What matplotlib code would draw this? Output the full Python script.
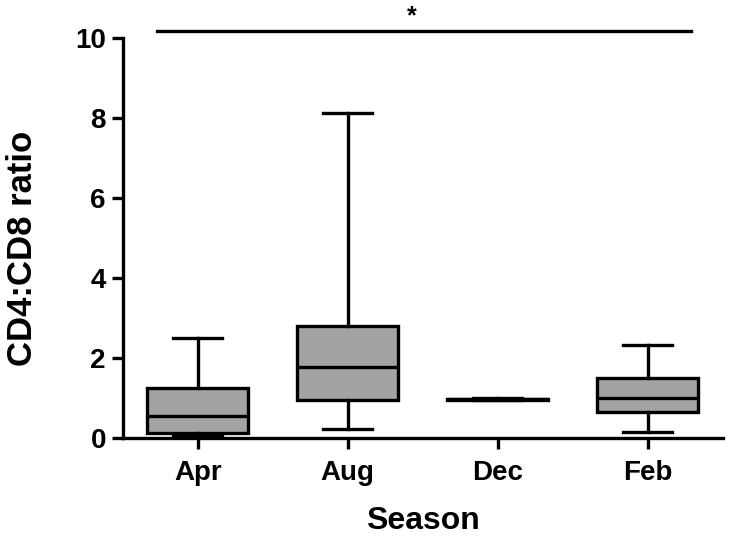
import matplotlib
matplotlib.use("Agg")
import matplotlib.pyplot as plt

plt.rcParams["font.family"] = ["Liberation Sans", "DejaVu Sans"]
plt.rcParams["font.weight"] = "bold"

# 数据：各季节 CD4:CD8 比值的五数概括（min, Q1, median, Q3, max）
seasons = ["Apr", "Aug", "Dec", "Feb"]
whislo = [0.05, 0.23, 0.94, 0.15]
q1 = [0.12, 0.95, 0.95, 0.65]
med = [0.55, 1.77, 0.97, 0.99]
q3 = [1.25, 2.81, 0.98, 1.50]
whishi = [2.50, 8.13, 1.00, 2.32]

stats = []
for i, s in enumerate(seasons):
    stats.append(dict(label=s, whislo=whislo[i], q1=q1[i], med=med[i],
                      q3=q3[i], whishi=whishi[i], fliers=[]))

fig = plt.figure(figsize=(7.30, 5.42), dpi=100)
ax = fig.add_axes([0.168, 0.192, 0.822, 0.738])

lw = 2.4
ax.bxp(stats, positions=range(len(seasons)), widths=0.67, patch_artist=True,
       showfliers=False,
       boxprops=dict(facecolor="#a3a3a6", edgecolor="black", linewidth=lw),
       medianprops=dict(color="black", linewidth=lw),
       whiskerprops=dict(color="black", linewidth=lw),
       capprops=dict(color="black", linewidth=lw),
       capwidths=0.33)

ax.set_xlim(-0.5, 3.5)
ax.set_ylim(0, 10)
ax.set_yticks([0, 2, 4, 6, 8, 10])
ax.set_xticks(range(len(seasons)))
ax.set_xticklabels(seasons)

for side in ("top", "right"):
    ax.spines[side].set_visible(False)
for side in ("left", "bottom"):
    ax.spines[side].set_linewidth(lw)
ax.tick_params(axis="both", width=lw, length=8, labelsize=20, pad=4)
ax.tick_params(axis="x", pad=8)

ax.set_xlabel("Season", fontsize=23, fontweight="bold", labelpad=14)
ax.set_ylabel("CD4:CD8 ratio", fontsize=25, fontweight="bold")
ax.yaxis.set_label_coords(-0.14, 0.475)

# 显著性标记
ax.plot([-0.27, 3.29], [10.18, 10.18], color="black", linewidth=lw,
        clip_on=False)
ax.text(1.43, 10.25, "*", ha="center", va="bottom", fontsize=18,
        fontweight="bold")

fig.savefig("out.png", dpi=100)
